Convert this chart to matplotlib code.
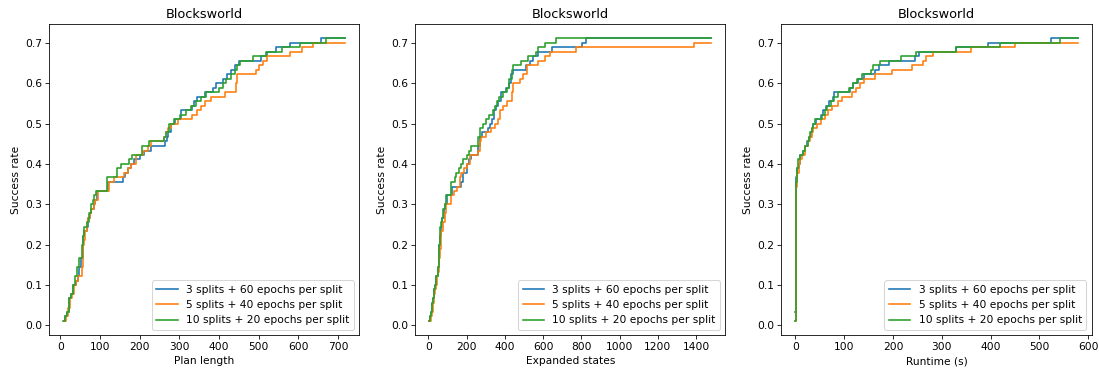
import matplotlib
matplotlib.use("Agg")
import matplotlib.pyplot as plt

labels = ["3 splits + 60 epochs per split",
          "5 splits + 40 epochs per split",
          "10 splits + 20 epochs per split"]

# Plan length panel
plan_x_3 = [8, 12, 18, 23, 28, 33, 40, 44, 48, 52, 56, 58, 60, 66, 70, 74, 78, 84, 88, 92,
            120, 157, 162, 170, 178, 186, 200, 212, 229, 265, 268, 272, 278, 290, 304,
            333, 338, 345, 365, 385, 392, 410, 420, 430, 440, 450, 505, 520, 544, 578, 656, 718]
plan_y_3 = [.011, .022, .033, .067, .078, .1, .111, .122, .144, .167, .2, .222, .233, .244, .267,
            .278, .289, .3, .311, .333, .356, .367, .378, .389, .4, .411, .422, .433, .444, .456,
            .467, .478, .5, .511, .533, .544, .556, .567, .578, .589, .6, .611, .622, .633, .644,
            .656, .667, .678, .689, .7, .711, .711]
plan_x_5 = [10, 15, 20, 25, 30, 35, 40, 44, 54, 56, 58, 60, 62, 66, 70, 74, 78, 85, 88, 95,
            122, 135, 160, 170, 178, 190, 208, 220, 228, 262, 266, 272, 278, 297, 333,
            345, 355, 365, 380, 415, 443, 446, 492, 500, 510, 520, 580, 610, 637, 718]
plan_y_5 = [.011, .022, .044, .067, .078, .1, .111, .122, .144, .167, .2, .211, .233, .256, .267,
            .278, .289, .3, .311, .333, .356, .367, .378, .389, .4, .422, .433, .444, .456, .467,
            .478, .489, .5, .511, .522, .533, .544, .556, .567, .578, .6, .622, .633, .644, .656,
            .667, .678, .689, .7, .7]
plan_x_10 = [7, 12, 18, 23, 28, 33, 38, 42, 46, 55, 57, 59, 68, 72, 78, 82, 86, 90, 117, 143,
             152, 172, 180, 206, 223, 262, 266, 275, 287, 301, 316, 329, 342, 354, 367,
             400, 410, 418, 429, 439, 445, 453, 486, 519, 559, 605, 670, 718]
plan_y_10 = [.011, .022, .033, .067, .078, .1, .122, .144, .167, .2, .222, .244, .256, .278, .3,
             .311, .322, .333, .367, .389, .4, .411, .422, .444, .456, .467, .478, .5, .511, .522,
             .533, .544, .556, .567, .578, .589, .6, .611, .622, .633, .644, .656, .667, .678,
             .689, .7, .711, .711]

# Expanded states panel
exp_x_3 = [5, 10, 15, 20, 25, 30, 36, 42, 48, 54, 58, 62, 68, 74, 80, 85, 100, 125, 170, 180,
           200, 215, 225, 262, 270, 280, 310, 325, 335, 345, 355, 365, 380, 405, 420,
           430, 443, 513, 530, 548, 575, 645, 805, 823, 1480]
exp_y_3 = [.011, .022, .033, .056, .067, .089, .1, .122, .144, .167, .2, .222, .244, .267, .289,
           .3, .322, .344, .356, .378, .4, .411, .422, .444, .467, .478, .489, .5, .511, .533,
           .544, .556, .578, .589, .6, .622, .633, .644, .656, .667, .678, .689, .7, .711, .711]
exp_x_5 = [6, 12, 18, 24, 30, 36, 42, 47, 52, 56, 60, 64, 68, 76, 85, 94, 120, 134, 151, 164,
           172, 185, 200, 217, 261, 270, 278, 304, 330, 348, 362, 374, 391, 409, 435,
           443, 478, 496, 517, 574, 609, 635, 774, 1388, 1480]
exp_y_5 = [.011, .022, .033, .056, .078, .089, .1, .122, .133, .167, .189, .211, .233, .256, .278,
           .3, .322, .333, .344, .367, .378, .389, .4, .422, .433, .456, .467, .478, .489, .5,
           .511, .533, .544, .556, .578, .6, .611, .622, .644, .656, .667, .678, .689, .7, .7]
exp_x_10 = [5, 10, 15, 20, 24, 30, 36, 42, 48, 54, 59, 66, 72, 77, 85, 94, 117, 140, 146, 159,
            170, 181, 200, 212, 221, 261, 270, 287, 301, 318, 336, 348, 358, 370, 391,
            409, 423, 435, 443, 482, 522, 562, 574, 609, 670, 1480]
exp_y_10 = [.011, .022, .033, .056, .067, .089, .1, .122, .144, .2, .244, .256, .267, .289, .3,
            .322, .356, .367, .378, .389, .4, .411, .422, .433, .444, .467, .489, .5, .511, .522,
            .533, .544, .556, .567, .578, .589, .611, .633, .644, .656, .667, .678, .689, .7,
            .711, .711]

# Runtime panel
run_x_3 = [0, 0.5, 1, 2, 4, 7, 10, 15, 19, 24, 28, 31, 34, 37, 43, 52, 57, 62, 68, 76,
           80, 112, 118, 128, 140, 162, 172, 192, 244, 254, 330, 394, 524, 578]
run_y_3 = [.033, .322, .344, .367, .389, .4, .422, .433, .444, .456, .467, .478, .489, .5, .511,
           .522, .533, .544, .556, .567, .578, .589, .6, .611, .622, .633, .644, .656, .667, .678,
           .689, .7, .711, .711]
run_x_5 = [0, 1, 2, 4, 7, 10, 14, 20, 26, 30, 34, 36, 45, 52, 60, 66, 75, 88, 96, 115,
           124, 133, 141, 163, 198, 239, 261, 268, 282, 360, 450, 578]
run_y_5 = [.011, .311, .344, .378, .4, .411, .422, .444, .456, .467, .478, .489, .5, .511, .522,
           .533, .544, .556, .567, .578, .589, .6, .611, .622, .633, .644, .656, .667, .678, .689,
           .7, .7]
run_x_10 = [0, 0.5, 1, 2, 3, 6, 10, 15, 19, 25, 27, 30, 33, 35, 41, 55, 60, 65, 73, 79,
            88, 110, 117, 127, 137, 155, 159, 173, 216, 247, 328, 420, 543, 578]
run_y_10 = [.011, .322, .344, .356, .389, .411, .422, .433, .444, .456, .467, .478, .489, .5, .511,
            .522, .533, .544, .556, .567, .578, .589, .6, .611, .622, .633, .644, .656, .667, .678,
            .689, .7, .711, .711]

panels = [
    ("Plan length", [(plan_x_3, plan_y_3), (plan_x_5, plan_y_5), (plan_x_10, plan_y_10)]),
    ("Expanded states", [(exp_x_3, exp_y_3), (exp_x_5, exp_y_5), (exp_x_10, exp_y_10)]),
    ("Runtime (s)", [(run_x_3, run_y_3), (run_x_5, run_y_5), (run_x_10, run_y_10)]),
]

plt.rcParams['font.size'] = 10.5
plt.rcParams['lines.linewidth'] = 1.6

dpi = 1099 / 15
fig, axes = plt.subplots(1, 3, figsize=(15, 371 / dpi), dpi=dpi)
fig.subplots_adjust(left=0.0446, right=0.9933, bottom=0.097, top=0.9345, wspace=0.18)

for ax, (xlabel, series) in zip(axes, panels):
    for (xs, ys), lab in zip(series, labels):
        ax.step(xs, ys, where='post', label=lab)
    ax.set_title('Blocksworld')
    ax.set_xlabel(xlabel)
    ax.set_ylabel('Success rate')
    ax.legend(loc='lower right')

fig.savefig('out.png', dpi=dpi)
